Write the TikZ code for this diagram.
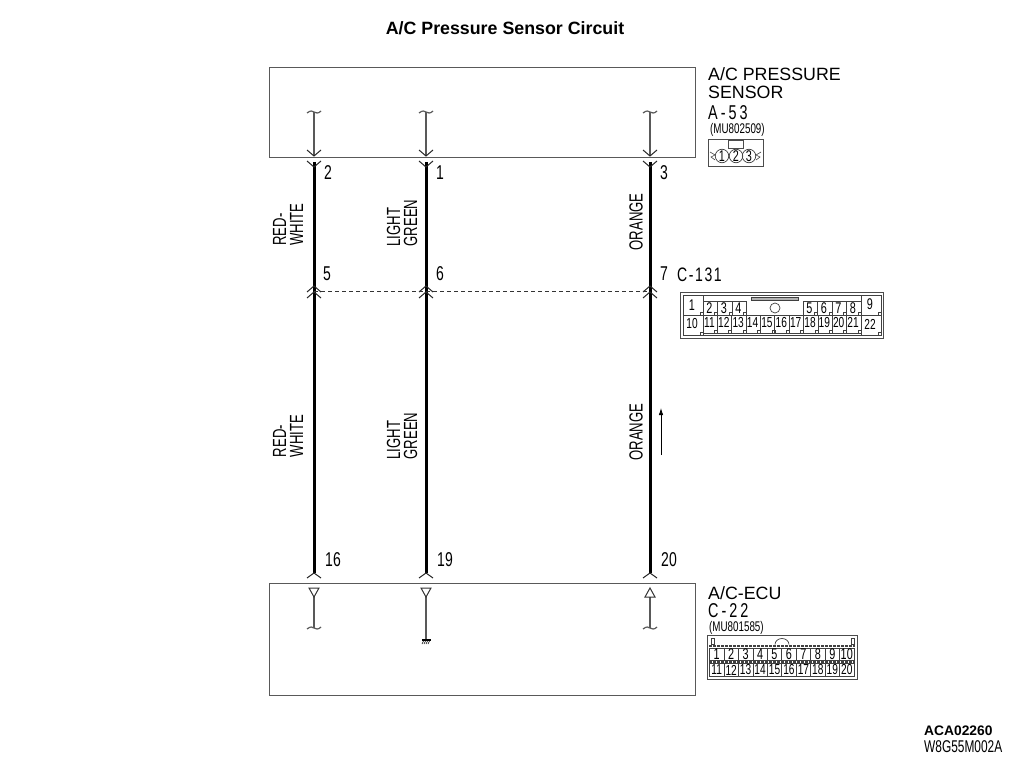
\documentclass[tikz,border=0pt]{standalone}
\usepackage{fontspec}
\setmainfont{Liberation Sans}
\newfontfamily\narrowfont[FakeStretch=0.7]{Liberation Sans}
\newfontfamily\wirefont[FakeStretch=0.69]{Liberation Sans}
\newfontfamily\spacedfont[FakeStretch=0.72,LetterSpace=8]{Liberation Sans}
\newfontfamily\codefont[FakeStretch=0.72,LetterSpace=15]{Liberation Sans}
\usetikzlibrary{arrows.meta}
\definecolor{boxgray}{gray}{0.35}
\tikzset{
    x=1pt, y=-1pt,
    unit/.style={draw=boxgray, line width=1.2pt, inner sep=0, anchor=north west}, % ECU and sensor box
    harness/.style={line width=3pt, black},
    inner wire/.style={draw=boxgray, line width=1.2pt},
    dashlink/.style={line width=0.7pt, dash pattern=on 4pt off 3pt, black!80},
    shell/.style={draw=black!70, line width=1pt},
    cell/.style={draw=black!75, line width=0.7pt},
    notch/.style={draw=black!75, line width=0.6pt},
    pin/.style={font=\narrowfont\fontsize{20}{20}\selectfont, inner sep=0},
    wirename/.style={font=\wirefont\fontsize{19}{17}\selectfont, inner sep=0, rotate=90, align=left},
    caption/.style={font=\fontsize{17.8}{17.8}\selectfont, inner sep=0, anchor=west},
    partno/.style={font=\narrowfont\fontsize{14}{14}\selectfont, inner sep=0, anchor=west},
    cavity/.style={font=\narrowfont\fontsize{15.5}{15.5}\selectfont, inner sep=0},
    cavitytwo/.style={font=\narrowfont\fontsize{14.5}{14.5}\selectfont, inner sep=0},
    pics/chevron/.style={code={\draw[line width=1pt, black!85] (-7, -#1) -- (0, 0) -- (7, -#1);}},
    pics/squiggle/.style={code={\draw[inner wire] (-7, 1) .. controls (-3, -2) and (-2, -1) .. (0, 0) .. controls (2, 1) and (4, 2) .. (7, -1);}},
}

\begin{document}
\begin{tikzpicture}
    \useasboundingbox (0, 0) rectangle (1010, 762);
    \node[font=\bfseries\fontsize{17.8}{17.8}\selectfont, inner sep=0] (title) at (505, 28) {A/C Pressure Sensor Circuit};

    % units
    \node[unit, minimum width=426pt, minimum height=90pt] (sensor) at (269, 67) {};
    \node[unit, minimum width=426pt, minimum height=112pt] (ecu) at (269, 583) {};

    % harness wires
    \foreach \wname/\wx in {red/314, green/426, orange/650} {
        \coordinate (\wname-top) at (\wx, 162);
        \coordinate (\wname-in) at (\wx, 112);
        \coordinate (\wname-pin) at (\wx, 156);
        \coordinate (\wname-mid) at (\wx, 291);
        \coordinate (\wname-low) at (\wx, 573);
        \draw[harness] (\wname-top) -- (\wname-low);
        \draw[inner wire] (\wname-in) -- (\wname-pin);
        \pic at (\wname-in) {squiggle};
        \pic at (\wname-pin) {chevron=6};
        \pic at (\wx, 167) {chevron=6};
        \pic at (\wx, 286) {chevron=-6};
        \pic at (\wx, 292) {chevron=-6};
        \pic at (\wname-low) {chevron=-5};
    }
    \draw[dashlink] (red-mid) -- (green-mid) -- (orange-mid);

    % inside the ECU
    \coordinate (redend) at (314, 628);
    \coordinate (greenend) at (426, 640);
    \coordinate (orangeend) at (650, 628);
    \draw[inner wire] (314, 596) -- (redend);
    \draw[inner wire] (426, 596) -- (greenend);
    \draw[inner wire] (650, 597) -- (orangeend);
    \draw[line width=1pt, black!80] (309, 588) -- (319, 588) -- (314, 597) -- cycle;
    \draw[line width=1pt, black!80] (421, 588) -- (431, 588) -- (426, 597) -- cycle;
    \draw[line width=1pt, black!80] (645, 597) -- (655, 597) -- (650, 588) -- cycle;
    \pic at (redend) {squiggle};
    \pic at (orangeend) {squiggle};
    \draw[line width=1.1pt] (422, 640) -- (431, 640);
    \foreach \hx in {424, 426, 428, 430} {
        \draw[line width=0.6pt] (\hx, 640) -- (\hx - 2, 644);
    }

    % signal direction
    \coordinate (dirlow) at (661, 455);
    \coordinate (dirhigh) at (661, 408);
    \draw[line width=0.8pt, -{Latex[length=7pt, width=4.5pt]}] (dirlow) -- (dirhigh);

    % wire names
    \node[wirename] (redA) at (288, 224.5) {RED-\\WHITE};
    \node[wirename] (greenA) at (402, 223) {LIGHT\\GREEN};
    \node[wirename] (orangeA) at (636, 222) {ORANGE};
    \node[wirename] (redB) at (288, 436) {RED-\\WHITE};
    \node[wirename] (greenB) at (402, 436) {LIGHT\\GREEN};
    \node[wirename] (orangeB) at (636, 432) {ORANGE};

    % pin numbers
    \foreach \pname/\px/\py in {2/328/173, 1/440/173, 3/664/173, 5/327/274, 6/440/274, 7/664/274, 16/333/560, 19/445/560, 20/669/560} {
        \node[pin] (pin\pname) at (\px, \py) {\pname};
    }

    % sensor connector
    \node[caption] (sensorname) at (708, 74) {A/C PRESSURE};
    \node[caption] (sensorname2) at (708, 92) {SENSOR};
    \node[pin, anchor=west, font=\codefont\fontsize{20}{20}\selectfont] (sensorcode) at (708, 113) {A-53};
    \node[partno] (sensorpart) at (710, 130) {(MU802509)};
    \node[shell, minimum width=55pt, minimum height=27pt, inner sep=0, anchor=north west] (plugA) at (708, 139) {};
    \draw[shell] (728, 149) -- (728, 141) -- (743, 141) -- (743, 149) -- cycle;
    \foreach \cnum/\cx in {1/722, 2/736, 3/749} {
        \node[cavity, draw=black!75, circle, minimum size=13.5pt, line width=0.7pt] (plugA\cnum) at (\cx, 156) {\cnum};
    }
    \draw[notch] (710, 152) -- (715, 155) -- (711, 157) -- (715, 160);
    \draw[notch] (761, 152) -- (756, 155) -- (760, 157) -- (756, 160);

    % C-131
    \node[pin, anchor=west, font=\spacedfont\fontsize{19.5}{19.5}\selectfont] (midcode) at (677, 275) {C-131};
    \node[shell, minimum width=203pt, minimum height=46pt, inner sep=0, anchor=north west] (plugB) at (680, 292) {};
    \draw[cell] (683, 295) rectangle (881, 335);
    \draw[cell] (683, 295) rectangle (703, 335);
    \draw[cell] (683, 315) -- (703, 315);
    \draw[cell] (861, 295) rectangle (881, 335);
    \draw[cell] (861, 315) -- (881, 315);
    \draw[cell, fill=gray!60] (751, 297) rectangle (798, 300);
    \node[draw=black!75, circle, minimum size=10pt, inner sep=0, line width=0.7pt] (midhole) at (775, 308) {};
    \node[cavity] (mid1) at (692, 305) {1};
    \node[cavitytwo] (mid10) at (692, 324) {10};
    \node[cavity] (mid9) at (870, 304) {9};
    \node[cavitytwo] (mid22) at (870, 324) {22};
    \foreach \nx/\ny in {703/315, 703/335, 881/315, 881/335} {
        \draw[notch] (\nx - 3, \ny - 3) rectangle (\nx, \ny);
    }
    \foreach \cnum [count=\ci from 0] in {2, 3, 4} {
        \draw[cell] (703 + 14.5*\ci, 301) rectangle ++(14.5, 14);
        \draw[notch] (714.5 + 14.5*\ci, 312) rectangle ++(3, 3);
        \node[cavity] (mid\cnum) at (709.5 + 14.5*\ci, 308) {\cnum};
    }
    \foreach \cnum [count=\ci from 0] in {5, 6, 7, 8} {
        \draw[cell] (803 + 14.5*\ci, 301) rectangle ++(14.5, 14);
        \draw[notch] (814.5 + 14.5*\ci, 312) rectangle ++(3, 3);
        \node[cavity] (mid\cnum) at (809.5 + 14.5*\ci, 308) {\cnum};
    }
    \foreach \cnum [count=\ci from 0] in {11, 12, ..., 21} {
        \draw[cell] (703 + 14.36*\ci, 315) rectangle ++(14.36, 18);
        \draw[notch] (714.4 + 14.36*\ci, 330) rectangle ++(3, 3);
        \node[cavitytwo] (mid\cnum) at (709.5 + 14.36*\ci, 322.5) {\cnum};
    }

    % ECU connector
    \node[caption] (ecuname) at (708, 593) {A/C-ECU};
    \node[pin, anchor=west, font=\codefont\fontsize{20}{20}\selectfont] (ecucode) at (708, 611) {C-22};
    \node[partno] (ecupart) at (709, 628) {(MU801585)};
    \node[shell, minimum width=150pt, minimum height=44pt, inner sep=0, anchor=north west] (plugC) at (707, 635) {};
    \draw[line width=1.6pt, dash pattern=on 3pt off 1pt, black!75] (709, 646) -- (855, 646);
    \draw[line width=1.6pt, dash pattern=on 3pt off 1pt, black!75] (709, 662) -- (855, 662);
    \draw[cell] (775, 644.5) arc[start angle=180, end angle=0, x radius=7, y radius=-6];
    \draw[cell] (711, 638) rectangle (714, 644);
    \draw[cell] (851, 638) rectangle (854, 644);
    \foreach \cnum [count=\ci from 0] in {1, 2, ..., 10} {
        \draw[cell] (709.5 + 14.45*\ci, 648) rectangle ++(14.45, 12.5);
        \node[cavity] (ecu\cnum) at (716.7 + 14.45*\ci, 654) {\cnum};
    }
    \foreach \cnum [count=\ci from 0] in {11, 12, ..., 20} {
        \draw[cell] (709.5 + 14.45*\ci, 663.5) rectangle ++(14.45, 12.5);
        \node[cavitytwo] (ecu\cnum) at (716.7 + 14.45*\ci, 670) {\cnum};
    }

    % drawing numbers
    \node[font=\bfseries\fontsize{13.8}{13.8}\selectfont, inner sep=0, anchor=west] (refA) at (924, 731) {ACA02260};
    \node[font=\narrowfont\fontsize{17}{17}\selectfont, inner sep=0, anchor=west] (refB) at (924, 747) {W8G55M002A};
\end{tikzpicture}
\end{document}
